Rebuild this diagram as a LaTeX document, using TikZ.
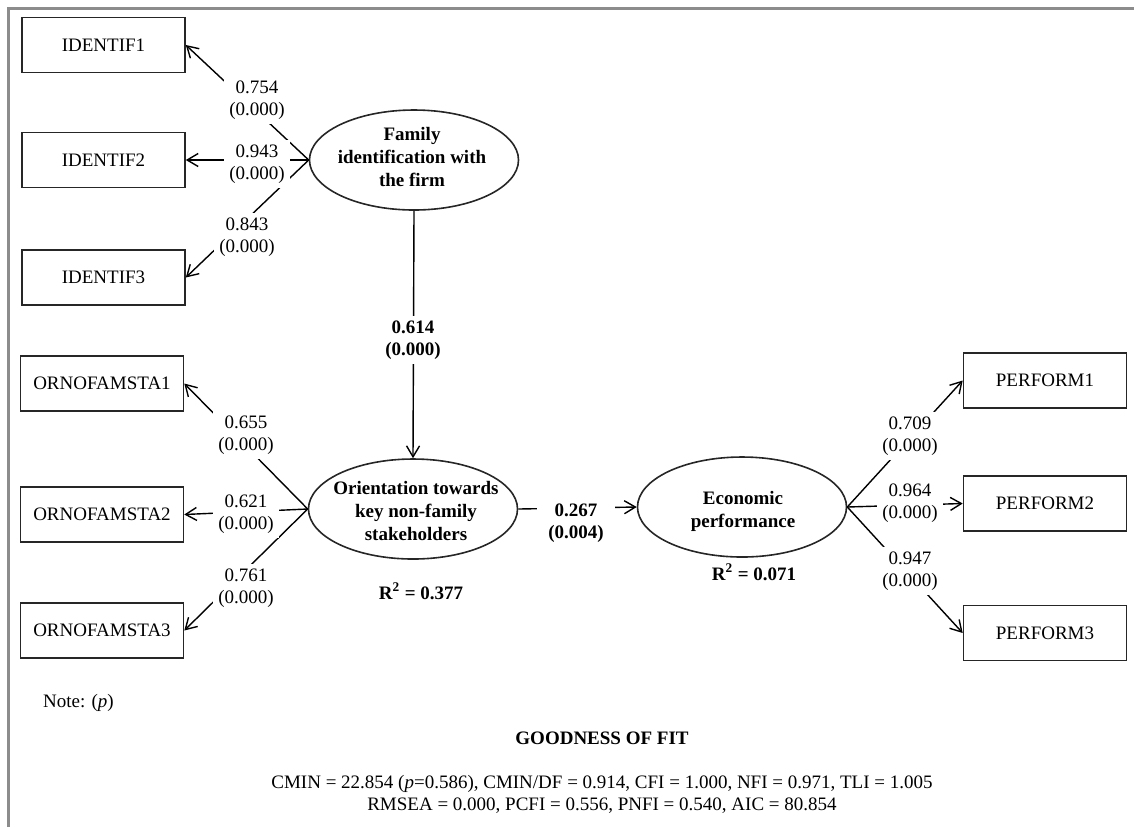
\documentclass[tikz,border=0pt]{standalone}
\usepackage{fontspec}
\setmainfont{Liberation Serif}
\usetikzlibrary{arrows.meta,shapes.geometric}
\begin{document}
\begin{tikzpicture}[x=0.5pt,y=-0.5pt,
  every node/.style={font=\fontsize{9.5}{11.5}\selectfont},
  ind/.style={draw=black!85, line width=0.8pt, minimum width=81.5pt, minimum height=27.5pt, inner sep=0pt},
  lat/.style={draw=black!85, line width=0.8pt, ellipse, minimum width=104.5pt, minimum height=50pt, inner sep=0pt},
  lattxt/.style={align=center, font=\fontsize{9.5}{11.5}\selectfont\bfseries, inner sep=0pt},
  lbl/.style={align=center, fill=white, inner sep=2.5pt, font=\fontsize{9.5}{11}\selectfont},
  blbl/.style={lbl, font=\fontsize{9.5}{11}\selectfont\bfseries},
  conn/.style={line width=0.7pt, -{Straight Barb[length=5.5pt,width=6.5pt,line width=0.7pt]}},
  plain/.style={line width=0.7pt},
  framestyle/.style={draw=black!45, line width=1.2pt}
]
\useasboundingbox (0,0) rectangle (1134,827);
\draw[framestyle] (8.5,827) -- (8.5,8.5) -- (1134,8.5);

% indicators
\node[ind] (id1) at (103.5,45) {IDENTIF1};
\node[ind] (id2) at (103.5,160) {IDENTIF2};
\node[ind] (id3) at (103.5,277.5) {IDENTIF3};
\node[ind] (or1) at (102,383.5) {ORNOFAMSTA1};
\node[ind] (or2) at (102,514.5) {ORNOFAMSTA2};
\node[ind] (or3) at (102,630.5) {ORNOFAMSTA3};
\node[ind] (pf1) at (1045,380.5) {PERFORM1};
\node[ind] (pf2) at (1045,503.5) {PERFORM2};
\node[ind] (pf3) at (1045,633) {PERFORM3};

% latents
\node[lat] (fam) at (414,160) {};
\node[lattxt] (famt) at (412,157) {Family\\identification with\\the firm};
\node[lat] (ori) at (413,509) {};
\node[lattxt] (orit) at (416,511) {Orientation towards\\key non-family\\stakeholders};
\node[lat] (eco) at (742,507) {};
\node[lattxt] (ecot) at (743,511) {Economic\\performance};

% connectors
\draw[conn] (fam.west) -- (id1.east);
\draw[conn] (fam.west) -- (id2.east);
\draw[conn] (fam.west) -- (id3.east);
\draw[conn] (fam.south) -- (ori.north);
\draw[conn] (ori.west) -- (or1.east);
\draw[conn] (ori.west) -- (or2.east);
\draw[conn] (ori.west) -- (or3.east);
\draw[conn] (ori.east) -- (eco.west);
\draw[conn] (eco.east) -- (pf1.west);
\draw[conn] (eco.east) -- (pf2.west);
\draw[conn] (eco.east) -- (pf3.west);

% labels
\node[lbl] (l1) at (257,100) {0.754\\(0.000)};
\node[lbl] (l2) at (257,164) {0.943\\(0.000)};
\node[lbl] (l3) at (247,237) {0.843\\(0.000)};
\node[blbl] (p1) at (413,340) {0.614\\(0.000)};
\node[lbl] (l4) at (246,435) {0.655\\(0.000)};
\node[lbl] (l5) at (246,514) {0.621\\(0.000)};
\node[lbl] (l6) at (246,588) {0.761\\(0.000)};
\node[blbl, inner xsep=5.5pt] (p2) at (576,523) {0.267\\(0.004)};
\node[lbl] (l7) at (910,436) {0.709\\(0.000)};
\node[lbl] (l8) at (910,503) {0.964\\(0.000)};
\node[lbl] (l9) at (910,571) {0.947\\(0.000)};

\node[font=\fontsize{9.5}{11.5}\selectfont\bfseries] (r1) at (421,591) {R\textsuperscript{2} = 0.377};
\node[font=\fontsize{9.5}{11.5}\selectfont\bfseries] (r2) at (754,572) {R\textsuperscript{2} = 0.071};

% bottom texts
\node[anchor=west] (note) at (36,703) {Note: (\textit{p})};
\node[font=\fontsize{9.5}{11.5}\selectfont\bfseries] (gof) at (602,738) {GOODNESS OF FIT};
\node[align=center, font=\fontsize{9.5}{11}\selectfont] (fit) at (602,794) {CMIN = 22.854 (\textit{p}=0.586), CMIN/DF = 0.914, CFI = 1.000, NFI = 0.971, TLI = 1.005\\RMSEA = 0.000, PCFI = 0.556, PNFI = 0.540, AIC = 80.854};
\end{tikzpicture}
\end{document}
